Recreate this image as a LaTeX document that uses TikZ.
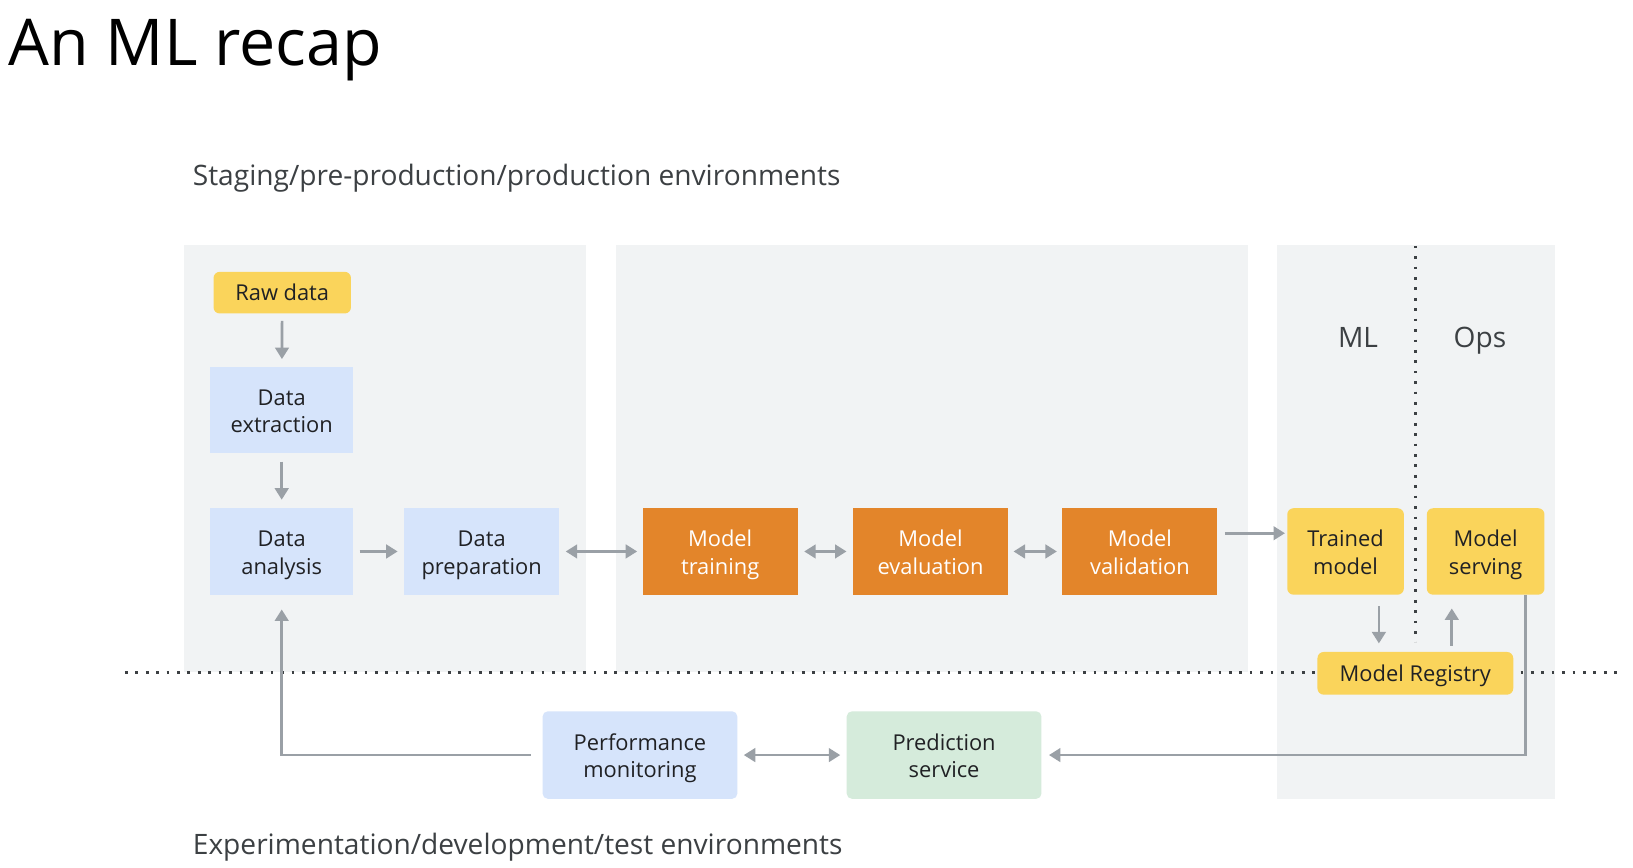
\documentclass[tikz,border=0pt]{standalone}
\usepackage{fontspec}
\setmainfont{Open Sans}
\usepackage{xcolor}
\usepackage{tikz}
\usetikzlibrary{calc}
\usetikzlibrary{arrows.meta}

\definecolor{panelgray}{HTML}{F1F3F4}
\definecolor{boxyellow}{HTML}{FAD45B}
\definecolor{boxblue}{HTML}{D6E4FB}
\definecolor{boxorange}{HTML}{E3852A}
\definecolor{boxgreen}{HTML}{D5EBDB}
\definecolor{arrowgray}{HTML}{9AA0A6}
\definecolor{inkdark}{HTML}{202124}
\definecolor{inkgray}{HTML}{3C4043}

\begin{document}
\begin{tikzpicture}[
		x=1pt, y=-1pt,
		panel/.style={fill=panelgray, draw=none},
		box/.style={draw=none, align=center, inner sep=0pt, minimum height=83pt, text=inkdark, font=\fontsize{21}{26.5}\selectfont, text height=50pt, text depth=6pt},
		oneline/.style={text height=22pt, text depth=6pt},
		bluebox/.style={box, fill=boxblue, minimum width=137pt},
		orangebox/.style={box, fill=boxorange, text=white, minimum width=149pt},
		yellowbox/.style={box, fill=boxyellow, rounded corners=6pt, minimum width=112pt},
		softbox/.style={box, rounded corners=5pt, minimum width=187pt, minimum height=84pt},
		arr/.style={draw=arrowgray, line width=2.6pt, -{Triangle[length=11pt, width=13pt]}},
		twoarr/.style={arr, {Triangle[length=11pt, width=13pt]}-{Triangle[length=11pt, width=13pt]}},
		divider/.style={draw=inkgray, line width=2.6pt, dash pattern=on 2.6pt off 7.4pt}
	]
	
	\useasboundingbox[fill=white] (0,0) rectangle (1568,833.4);
	
	% titles
	\node[anchor=base west, inner sep=0pt, font=\fontsize{62}{70}\selectfont] (title) at (8,63) {An ML recap};
	\node[anchor=base west, inner sep=0pt, text=inkgray, font=\fontsize{27}{32}\selectfont] (staging) at (185,178) {Staging/pre-production/production environments};
	\node[anchor=base west, inner sep=0pt, text=inkgray, font=\fontsize{27}{32}\selectfont] (experiment) at (185,820) {Experimentation/development/test environments};
	
	% the gray panels
	\fill[panel] (177,235) rectangle (563,645);
	\fill[panel] (591,235) rectangle (1198,645);
	\fill[panel] (1226,235) rectangle (1493,767);
	
	% environment border and ML/Ops border
	\draw[divider] (120,646) -- (1555,646);
	\draw[divider] (1359,236) -- (1359,616);
	\node[anchor=base, text=inkgray, font=\fontsize{27}{32}\selectfont] (ml) at (1304,334) {ML};
	\node[anchor=base, text=inkgray, font=\fontsize{27}{32}\selectfont] (ops) at (1421,334) {Ops};
	
	% data steps
	\node[yellowbox, oneline, minimum width=132pt, minimum height=40pt] (raw) at (271,281) {Raw data};
	\node[bluebox] (extract) at (270.5,393.5) {Data\\extraction};
	\node[bluebox] (analysis) at (270.5,529.5) {Data\\analysis};
	\node[bluebox, minimum width=149pt] (prep) at (462.5,529.5) {Data\\preparation};
	
	% model steps
	\node[orangebox] (train) at (691.5,529.5) {Model\\training};
	\node[orangebox] (eval) at (893.5,529.5) {Model\\evaluation};
	\node[orangebox] (valid) at (1094.5,529.5) {Model\\validation};
	
	% ML and Ops
	\node[yellowbox] (trained) at (1292,529.5) {Trained\\model};
	\node[yellowbox, minimum width=113pt] (serving) at (1426.5,529.5) {Model\\serving};
	\node[yellowbox, oneline, minimum width=188pt, minimum height=41pt] (registry) at (1359,646.5) {Model Registry};
	
	% monitoring loop
	\node[softbox, fill=boxblue] (perf) at (614.5,725) {Performance\\monitoring};
	\node[softbox, fill=boxgreen] (pred) at (906.5,725) {Prediction\\service};
	
	% connectors
	\draw[arr, shorten <=7pt, shorten >=7pt] (raw) -- (extract);
	\draw[arr, shorten <=8pt, shorten >=8pt] (extract) -- (analysis);
	\draw[arr, shorten <=6pt, shorten >=6pt] (analysis) -- (prep);
	\draw[twoarr, shorten <=6pt, shorten >=5pt] (prep) -- (train);
	\draw[twoarr, shorten <=6pt, shorten >=6pt] (train) -- (eval);
	\draw[twoarr, shorten <=5pt, shorten >=5pt] (eval) -- (valid);
	\draw[arr, shorten <=7pt, shorten >=2pt] ([yshift=17.5pt]valid.east) -- ([yshift=17.5pt]trained.west);
	
	\draw[arr, shorten <=11pt, shorten >=8pt] ([xshift=32pt]trained.south) -- ([xshift=32pt]trained.south |- registry.north);
	\draw[arr, shorten <=6pt, shorten >=13pt] ([xshift=-32.5pt]serving.south |- registry.north) -- ([xshift=-32.5pt]serving.south);
	
	\draw[arr, shorten >=7pt] ([xshift=38.5pt]serving.south) |- (pred.east);
	\draw[twoarr, shorten <=6pt, shorten >=6pt] (pred) -- (perf);
	\draw[arr, shorten <=11pt, shorten >=14pt] (perf.west) -| (analysis.south);
	
\end{tikzpicture}
\end{document}
